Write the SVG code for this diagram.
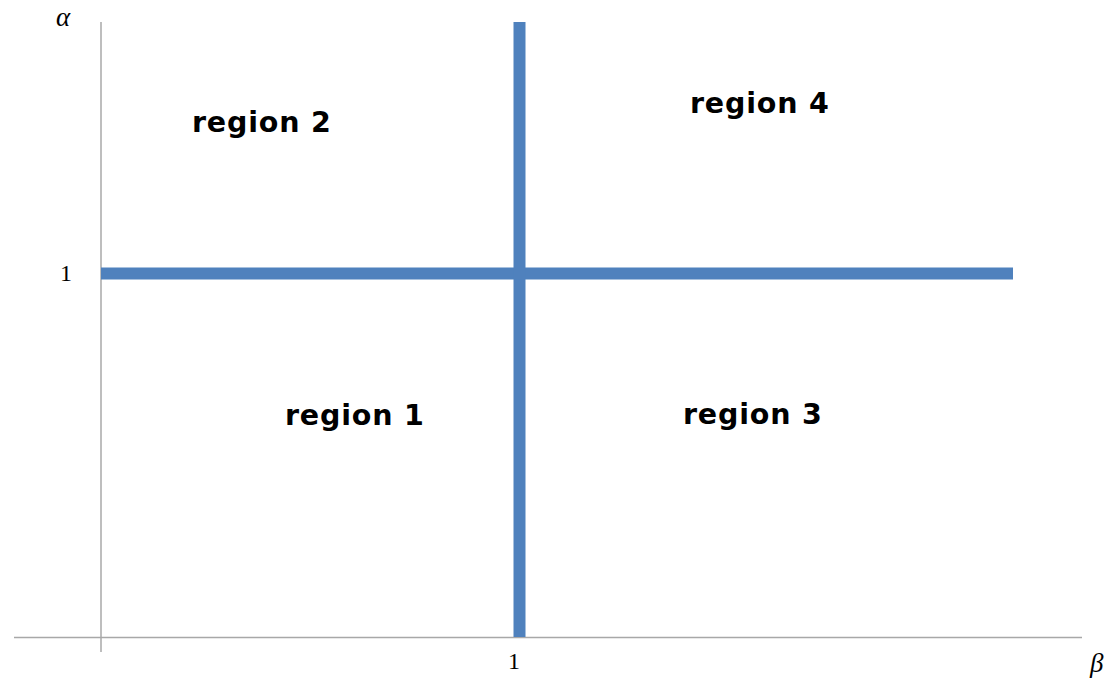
<svg xmlns="http://www.w3.org/2000/svg" width="1113" height="680" viewBox="0 0 1113 680">
<style>
.axis{stroke:#a8a8a8;stroke-width:1.5;fill:none}
.bar{stroke:#4f81bd;stroke-width:12;fill:none}
.reg{font-family:"DejaVu Sans",Verdana,sans-serif;font-weight:bold;font-size:28.5px;letter-spacing:0.8px;fill:#000}
.num{font-family:"Liberation Serif","Times New Roman",serif;font-size:24px;fill:#000}
.sym{font-family:"Liberation Serif","Times New Roman",serif;font-style:italic;font-size:27px;fill:#000}
</style>
<rect width="1113" height="680" fill="#fff"/>
<g id="connectors">
<line class="axis" x1="101" y1="22" x2="101" y2="652"/>
<line class="axis" x1="14" y1="637.5" x2="1082" y2="637.5"/>
<line class="bar" x1="101" y1="273.5" x2="1013" y2="273.5"/>
<line class="bar" x1="519.5" y1="22" x2="519.5" y2="637"/>
</g>
<g id="labels">
<text class="sym" x="56" y="26">α</text>
<text class="num" x="60" y="281">1</text>
<text class="num" x="508" y="669">1</text>
<text class="sym" x="1090" y="672">β</text>
</g>
<g id="region2"><text class="reg" x="192" y="132">region 2</text></g>
<g id="region4"><text class="reg" x="690" y="113">region 4</text></g>
<g id="region1"><text class="reg" x="285" y="425">region 1</text></g>
<g id="region3"><text class="reg" x="683" y="424">region 3</text></g>
</svg>
